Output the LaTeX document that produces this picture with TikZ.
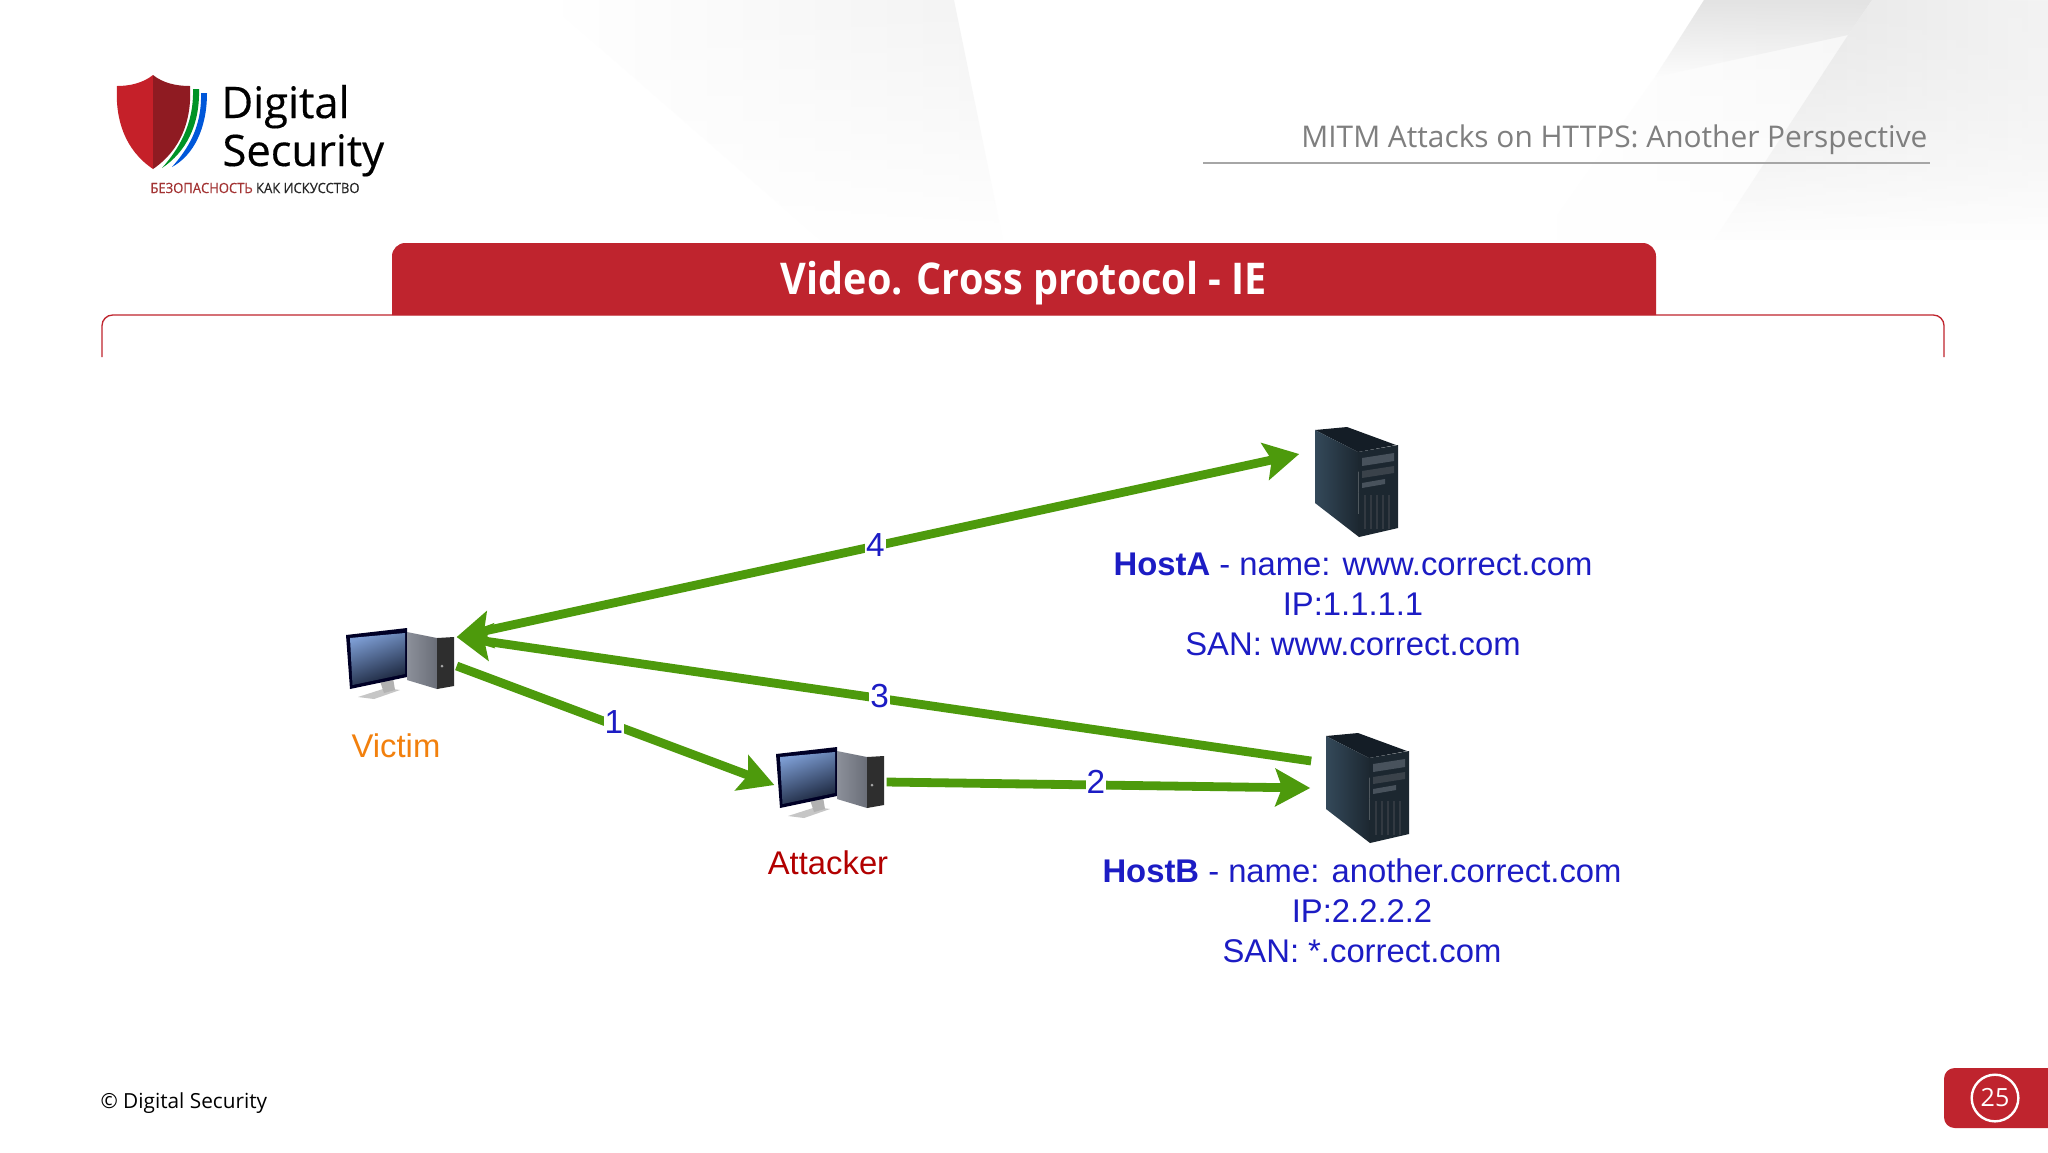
\documentclass[tikz,border=0pt]{standalone}
\usepackage{fontspec}
\setmainfont{Liberation Sans}
\newfontfamily\opensans{Open Sans}
\newfontfamily\osnarrow[FakeStretch=0.905]{Open Sans}
\newfontfamily\oslogo[FakeBold=0.35]{Open Sans}
\newfontfamily\ostag[FakeStretch=0.92,FakeBold=0.3]{Open Sans}
\usetikzlibrary{arrows.meta,calc,fadings,shadings}
\definecolor{dsred}{HTML}{BF242E}
\definecolor{arrowgreen}{HTML}{4D9A0C}
\definecolor{labelblue}{HTML}{1C1CC4}
\definecolor{headgray}{HTML}{7F7F7F}
\definecolor{screenlight}{HTML}{7C9CD2}
\definecolor{screendark}{HTML}{182238}
\definecolor{towerlight}{HTML}{8C909A}
\definecolor{towerdark}{HTML}{6A6E78}
\definecolor{serverside}{HTML}{34495A}
\definecolor{serverdark}{HTML}{1C2730}
\definecolor{servertop}{HTML}{141D26}
\definecolor{serverbay}{HTML}{48525C}
\tikzset{
  iconbox/.style={inner sep=0pt,outer sep=0pt,minimum width=#1},
  link/.style={line width=3.3pt,draw=arrowgreen,line cap=butt},
  tipend/.style={-{Stealth[length=13pt,width=14pt,inset=2.5pt]}},
  tipboth/.style={{Stealth[length=13pt,width=14pt,inset=2.5pt]}-{Stealth[length=13pt,width=14pt,inset=2.5pt]}},
  numlabel/.style={fill=white,inner sep=0.4pt,text=labelblue,font=\fontsize{12.5}{14}\selectfont},
  hostlabel/.style={text=labelblue,align=center,inner sep=0pt,font=\fontsize{12.3}{15}\selectfont},
  rolelabel/.style={inner sep=0pt,font=\fontsize{12.3}{15}\selectfont},
  logotext/.style={inner sep=0pt,anchor=base west,text=black,font=\oslogo\fontsize{16.3}{18}\selectfont},
  pcicon/.pic={
    \fill[gray!45] (12,69) -- (40,60) -- (54,62) -- (28,71) -- cycle;
    \fill[gray!60] (34,53) -- (47,50) -- (49,62) -- (38,65) -- cycle;
    \fill[black!85!blue] (0,7) -- (61,0) -- (61,49) -- (4,61) -- cycle;
    \shade[left color=screenlight,right color=screendark,shading angle=20] (4,10) -- (59,5) -- (59,46) -- (6.5,57) -- cycle;
    \shade[left color=towerlight,right color=towerdark] (61,4) -- (91,10) -- (91,61) -- (61,52) -- cycle;
    \fill[black!82] (91,10) -- (108,9) -- (108,58) -- (91,61) -- cycle;
    \fill[gray!70] (96,38) circle (1.5);
  },
  servericon/.pic={
    \fill[servertop] (0,3) -- (32,0) -- (81,18) -- (43,25) -- cycle;
    \shade[left color=serverside,right color=serverdark] (0,3) -- (43,25) -- (44,110) -- (0,76) -- cycle;
    \fill[serverdark] (43,25) -- (83,18) -- (83,101) -- (44,110) -- cycle;
    \fill[serverbay] (47,31) -- (79,26) -- (79,34) -- (47,39) -- cycle;
    \fill[serverbay!80!black] (47,44) -- (79,39) -- (79,46) -- (47,51) -- cycle;
    \fill[serverbay] (47,56) -- (70,52) -- (70,57) -- (47,61) -- cycle;
    \foreach \gx in {50,56,...,78} {\draw[serverbay!70!black,line width=0.5pt] (\gx,68) -- (\gx,102);}
  },
}
\begin{document}
\begin{tikzpicture}[x=0.375pt,y=-0.375pt]
\useasboundingbox (0,0) rectangle (2048,1152);
\fill[white] (0,0) rectangle (2048,1152);
% background facets
\shade[left color=white,right color=gray!10,path fading=south] (545,0) -- (954,0) -- (1003,240) -- (820,240) -- cycle;
\shade[left color=white,right color=gray!12,path fading=south] (1540,240) -- (1655,77) -- (1704,0) -- (2048,0) -- (2048,240) -- cycle;
\fill[gray!22,path fading=south] (1704,0) -- (1872,0) -- (1848,35) -- (1655,77) -- cycle;
\shade[left color=gray!22,right color=gray!9,path fading=south] (1872,0) -- (2048,0) -- (2048,240) -- (1714,240) -- (1848,35) -- cycle;
% logo
\fill[green!50!black!85!cyan] (193,89) -- (199,89) .. controls (200,125) and (186,152) .. (162,168) .. controls (178,150) and (194,125) .. (193,89) -- cycle;
\fill[blue!60!cyan!85!black] (201,93) -- (207,93) .. controls (207,128) and (194,155) .. (172,167) .. controls (187,150) and (202,128) .. (201,93) -- cycle;
\fill[dsred!90!red] (153,75) .. controls (143,83) and (130,86) .. (117,86) .. controls (115,120) and (125,150) .. (153,169) -- cycle;
\fill[dsred!75!black] (153,75) .. controls (163,83) and (176,86) .. (190,86) .. controls (192,120) and (181,150) .. (153,169) -- cycle;
\node[logotext] (logoa) at (221,118) {Digital};
\node[logotext] (logob) at (222,166) {Security};
\node[inner sep=0pt,font=\ostag\fontsize{5.3}{6}\selectfont] (logoc) at (255,188) {\textcolor{red!55!black!80}{БЕЗОПАСНОСТЬ} \textcolor{black!85}{КАК ИСКУССТВО}};
% header
\node[anchor=base east,inner sep=0pt,text=headgray,font=\opensans\fontsize{11.2}{14}\selectfont] (head) at (1928,147) {MITM Attacks on HTTPS: Another Perspective};
\draw[gray!70,line width=0.6pt] (1203,163) -- (1930,163);
% bracket and tab
\draw[dsred,line width=0.5pt,rounded corners=4pt] (102,357) -- (102,315) -- (1944,315) -- (1944,357);
\fill[dsred] (392,315) [rounded corners=5pt] -- (392,243) -- (1656,243) [sharp corners] -- (1656,315) -- cycle;
\node[inner sep=0pt,text=white,font=\osnarrow\bfseries\fontsize{16.4}{20}\selectfont] (title) at (1024,283) {Video. Cross protocol - IE};
% icons
\node[iconbox=41pt,minimum height=28pt] (victim) at (400,662) {};
\node[iconbox=41pt,minimum height=30pt] (attacker) at (831,785) {};
\node[iconbox=31pt,minimum height=41pt] (hosta) at (1356.5,482) {};
\node[iconbox=31pt,minimum height=41pt] (hostb) at (1367.5,788) {};
\pic at (346,628) {pcicon};
\pic at (776,747) {pcicon};
\pic at (1315,427) {servericon};
\pic at (1326,733) {servericon};
% connectors
\draw[link,tipboth] ($(victim.east)+(2,-25)$) -- node[numlabel,pos=0.497,yshift=0.5pt] (n4) {4} ($(hosta.west)+(-16,-28)$);
\draw[link,tipend] ($(hostb.west)+(-15,-27)$) -- node[numlabel,pos=0.505,yshift=0.8pt] (n3) {3} ($(victim.east)+(2,-25)$);
\draw[link,tipend] ($(victim.east)+(2,4)$) -- node[numlabel,pos=0.495,yshift=1.1pt] (n1) {1} ($(attacker.west)+(-2,0)$);
\draw[link,tipend] ($(attacker.east)+(1,-3)$) -- node[numlabel,pos=0.494,yshift=1pt] (n2) {2} ($(hostb.west)+(-16,0)$);
% labels
\node[rolelabel,text=orange!80!brown] (vlabel) at (396,746) {Victim};
\node[rolelabel,text=red!70!black] (alabel) at (828,863) {Attacker};
\node[hostlabel] (hatext) at (1353,604) {\textbf{HostA} - name: www.correct.com\\IP:1.1.1.1\\SAN: www.correct.com};
\node[hostlabel] (hbtext) at (1362,911) {\textbf{HostB} - name: another.correct.com\\IP:2.2.2.2\\SAN: *.correct.com};
% footer
\node[anchor=west,inner sep=0pt,text=black,font=\opensans\fontsize{7.8}{10}\selectfont] (foot) at (100,1103) {© Digital Security};
\fill[dsred,rounded corners=4pt] (2060,1068) -- (1944,1068) -- (1944,1128) -- (2060,1128) -- cycle;
\node[circle,draw=white,line width=0.9pt,minimum size=17.5pt,inner sep=0pt,text=white,font=\opensans\fontsize{9.4}{11}\selectfont] (pagenum) at (1995,1098) {25};
\end{tikzpicture}
\end{document}
